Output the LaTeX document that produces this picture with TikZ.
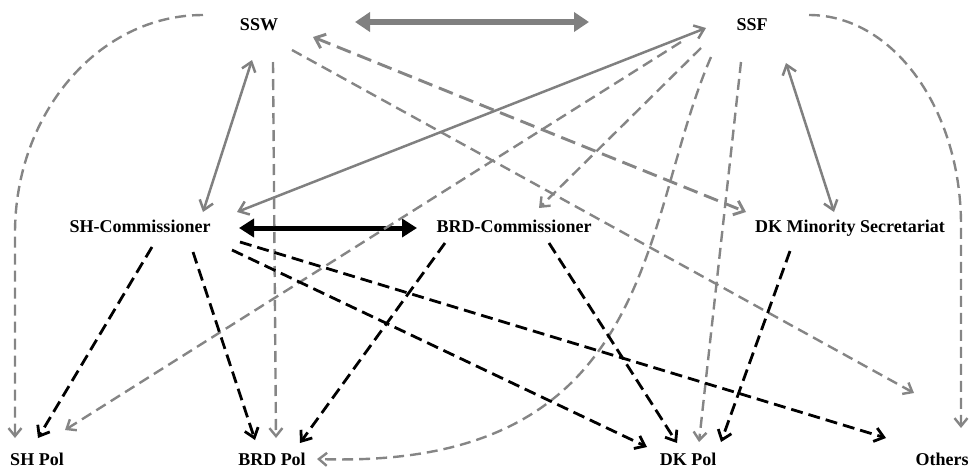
\documentclass[tikz,border=0pt]{standalone}
\usepackage{fontspec}
\setmainfont{Liberation Serif}
\usetikzlibrary{calc,arrows.meta}
\tikzset{
    actor/.style={font=\fontsize{18}{20}\selectfont\bfseries,inner sep=0pt,text height=12pt,text depth=0pt},
    bigtie/.style={draw=gray,line width=6pt,{Triangle[length=15pt,width=19pt]}-{Triangle[length=15pt,width=19pt]}},
    firmtie/.style={draw=black,line width=5pt,{Triangle[length=15pt,width=18pt]}-{Triangle[length=15pt,width=18pt]}},
    tie/.style={draw=gray,line width=2.5pt,{Straight Barb[length=9pt,width=14pt]}-{Straight Barb[length=9pt,width=14pt]}},
    contact/.style={draw=black!48,line width=2.4pt,dash pattern=on 11pt off 6pt,-{Straight Barb[length=8pt,width=13pt]}},
    widecontact/.style={contact,line width=2.9pt,dash pattern=on 15pt off 7pt,{Straight Barb[length=9pt,width=15pt]}-{Straight Barb[length=9pt,width=15pt]}},
    order/.style={draw=black,line width=2.8pt,dash pattern=on 12pt off 6pt,-{Straight Barb[length=9pt,width=14pt]}}
}
\begin{document}
\begin{tikzpicture}[x=1pt,y=1pt]
\useasboundingbox (0,0) rectangle (969,-467);
\node[actor](ssw) at (259,-24){SSW};
\node[actor](ssf) at (752,-24){SSF};
\node[actor](shcom) at (140,-226){SH-Commissioner};
\node[actor](brdcom) at (514,-226){BRD-Commissioner};
\node[actor](dkms) at (850,-226){DK Minority Secretariat};
\node[actor](shpol) at (37,-459){SH Pol};
\node[actor](brdpol) at (272,-459){BRD Pol};
\node[actor](dkpol) at (688,-459){DK Pol};
\node[actor](others) at (942,-459){Others};
% gray ties
\draw[bigtie]($(ssw)+(96,2)$)--($(ssf)+(-163,2)$);
\draw[tie]($(ssw)+(-7,-36)$)--($(shcom)+(63,14)$);
\draw[tie]($(ssf)+(-46,-4)$)--($(shcom)+(97,14)$);
\draw[tie]($(ssf)+(34,-39)$)--($(dkms)+(-16,14)$);
\draw[firmtie]($(shcom)+(99,-2)$)--($(brdcom)+(-97,-2)$);
% gray dashed
\draw[contact]($(ssw)+(-56,9)$)arc[start angle=90,end angle=180,x radius=188,y radius=218]--($(shpol)+(-22,21)$);
\draw[contact]($(ssf)+(57,9)$)arc[start angle=90,end angle=0,x radius=152,y radius=210]--($(others)+(19,31)$);
\draw[contact]($(ssw)+(14,-38)$)--($(brdpol)+(4,21)$);
\draw[contact]($(ssw)+(33,-26)$)--($(others)+(-28,66)$);
\draw[widecontact]($(ssw)+(54,-13)$)--($(dkms)+(-104,14)$);
\draw[contact]($(ssf)+(-51,-24)$)--($(brdcom)+(25,18)$);
\draw[contact]($(ssf)+(-71,-18)$)--($(shpol)+(28,29)$);
\draw[contact]($(ssf)+(-41,-33)$)..controls(640,-220)and(660,-470)..($(brdpol)+(45,0)$);
\draw[contact]($(ssf)+(-11,-38)$)--($(dkpol)+(11,17)$);
% black dashed
\draw[order]($(shcom)+(12,-21)$)--($(shpol)+(1,21)$);
\draw[order]($(shcom)+(53,-26)$)--($(brdpol)+(-17,19)$);
\draw[order]($(shcom)+(92,-24)$)--($(dkpol)+(-41,12)$);
\draw[order]($(shcom)+(100,-16)$)--($(others)+(-56,21)$);
\draw[order]($(brdcom)+(-69,-17)$)--($(brdpol)+(28,16)$);
\draw[order]($(brdcom)+(35,-17)$)--($(dkpol)+(-11,16)$);
\draw[order]($(dkms)+(-60,-25)$)--($(dkpol)+(33,17)$);
\end{tikzpicture}
\end{document}
